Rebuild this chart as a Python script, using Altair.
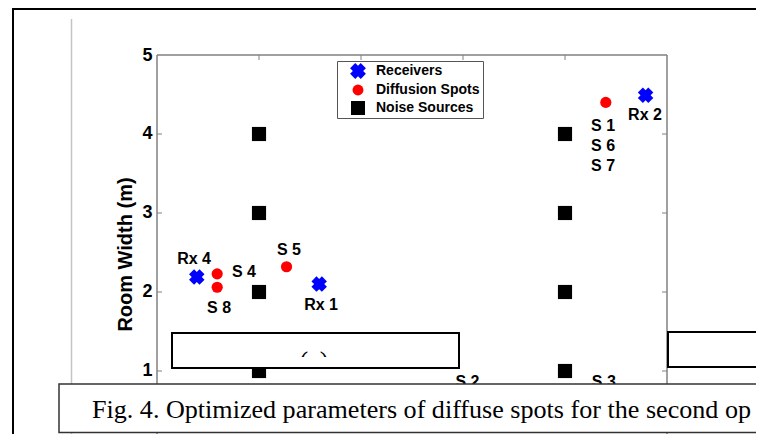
import altair as alt
import pandas as pd

# ---------------- data ----------------
categories = ["Receivers", "Diffusion Spots", "Noise Sources"]

rx_x = [0.39, 1.59, 4.79]
rx_y = [2.19, 2.10, 4.49]

ds_x = [0.59, 0.59, 1.27, 4.40]
ds_y = [2.23, 2.06, 2.32, 4.40]

ns_x = [1, 1, 1, 1, 4, 4, 4, 4]
ns_y = [1, 2, 3, 4, 1, 2, 3, 4]

label_text = ["Rx 4", "S 4", "S 8", "S 5", "Rx 1", "Rx 2", "S 1", "S 6", "S 7", "S 2", "S 3"]
label_x = [0.363, 0.853, 0.608, 1.294, 1.608, 4.784, 4.373, 4.373, 4.373, 3.044, 4.38]
label_y = [2.418, 2.253, 1.797, 2.532, 1.835, 4.241, 4.101, 3.848, 3.595, 0.856, 0.856]

y_ticks = [1, 2, 3, 4, 5]
x_ticks = [1, 2, 3, 4]

caption = "Fig. 4. Optimized parameters of diffuse spots for the second op"
panel_tag = "(a)"

# ---------------- tables ----------------
pts = pd.DataFrame({
    "type": ["Noise Sources"] * len(ns_x) + ["Diffusion Spots"] * len(ds_x) + ["Receivers"] * len(rx_x),
    "x": ns_x + ds_x + rx_x,
    "y": ns_y + ds_y + rx_y,
})
labels = pd.DataFrame({"label": label_text, "x": label_x, "y": label_y})
one = pd.DataFrame({"k": [0]})

W, H = 510, 379
GRAY = "#808080"
SANS = "Liberation Sans"
SERIF = "Liberation Serif"

xs = alt.Scale(domain=[0, 5], nice=False, zero=False)
ys = alt.Scale(domain=[0.2025, 5], nice=False, zero=False)

X_PATH = "M-1,-0.35L-0.35,-1L0,-0.65L0.35,-1L1,-0.35L0.65,0L1,0.35L0.35,1L0,0.65L-0.35,1L-1,0.35L-0.65,0Z"

leg = alt.Legend(
    title=None, orient="none", legendX=180, legendY=6,
    padding=3, rowPadding=4, symbolOffset=11, labelOffset=11,
    fillColor="white", strokeColor="#555555",
    labelFont=SANS, labelFontSize=14, labelFontWeight="bold", labelColor="black",
    symbolStrokeWidth=0,
    symbolSize=alt.ExprRef(expr="datum.value == 'Receivers' ? 250 : (datum.value == 'Diffusion Spots' ? 120 : 196)"),
)

yaxis = alt.Axis(
    values=y_ticks, format="d", title="Room Width (m)", domain=False, ticks=False, grid=False,
    labelPadding=5, labelFont=SANS, labelFontSize=18, labelFontWeight="bold", labelColor="black",
    titleFont=SANS, titleFontSize=20, titleFontWeight="bold", titleColor="black",
    titlePadding=6, titleY=199,
)

X = alt.X("x:Q", scale=xs, axis=None)
Y = alt.Y("y:Q", scale=ys, axis=yaxis)

# frame and side line
frame = alt.Chart(one).mark_rect(fill=None, stroke="black", strokeWidth=2).encode(
    x=alt.value(-144), x2=alt.value(800), y=alt.value(-46), y2=alt.value(600))
side_line = alt.Chart(one).mark_rule(color="#c4c4c4", strokeWidth=1.5).encode(
    x=alt.value(-85.5), y=alt.value(-36), y2=alt.value(600))

# plot box borders
b_top = alt.Chart(one).mark_rule(color=GRAY, strokeWidth=1.5).encode(
    x=alt.value(0), x2=alt.value(W), y=alt.value(0))
b_left = alt.Chart(one).mark_rule(color=GRAY, strokeWidth=1.5).encode(
    x=alt.value(0), y=alt.value(0), y2=alt.value(H + 10))
b_right = alt.Chart(one).mark_rule(color=GRAY, strokeWidth=1.5).encode(
    x=alt.value(W), y=alt.value(0), y2=alt.value(H + 10))

# inward ticks
t_left = alt.Chart(pd.DataFrame({"y": y_ticks[:-1]})).mark_rule(color=GRAY, strokeWidth=1).encode(
    y=Y, x=alt.value(0), x2=alt.value(5))
t_right = alt.Chart(pd.DataFrame({"y": y_ticks[:-1]})).mark_rule(color=GRAY, strokeWidth=1).encode(
    y=Y, x=alt.value(W - 5), x2=alt.value(W))
t_top = alt.Chart(pd.DataFrame({"x": x_ticks})).mark_rule(color=GRAY, strokeWidth=1).encode(
    x=X, y=alt.value(0), y2=alt.value(5))

color_enc = alt.Color("type:N", scale=alt.Scale(domain=categories, range=["#0000ff", "#ff0000", "#000000"]), legend=leg)
shape_enc = alt.Shape("type:N", scale=alt.Scale(domain=categories, range=[X_PATH, "circle", "square"]), legend=leg)

base = alt.Chart(pts).encode(x=X, y=Y, color=color_enc, shape=shape_enc)
p_noise = base.transform_filter(alt.datum.type == "Noise Sources").mark_point(
    filled=True, opacity=1, strokeWidth=0, size=200)
p_diff = base.transform_filter(alt.datum.type == "Diffusion Spots").mark_point(
    filled=True, opacity=1, strokeWidth=0, size=125)
p_rx = base.transform_filter(alt.datum.type == "Receivers").mark_point(
    filled=True, opacity=1, strokeWidth=0, size=240)

texts = alt.Chart(labels).mark_text(
    font=SANS, fontSize=16, fontWeight="bold", color="black", align="center", baseline="middle"
).encode(x=X, y=Y, text="label:N")

# overlaid boxes
box_a_fill = alt.Chart(one).mark_rect(fill="white", stroke="black", strokeWidth=2).encode(
    x=alt.value(15), x2=alt.value(302), y=alt.value(278), y2=alt.value(313))
tag_a = alt.Chart(one).mark_text(font=SERIF, fontSize=26, color="black", align="center", baseline="alphabetic").encode(
    x=alt.value(157), y=alt.value(313.5), text=alt.value(panel_tag))
cover = alt.Chart(one).mark_rect(fill="white", strokeWidth=0).encode(
    x=alt.value(135), x2=alt.value(180), y=alt.value(302), y2=alt.value(328))
box_a_line = alt.Chart(one).mark_rect(fill=None, stroke="black", strokeWidth=2).encode(
    x=alt.value(15), x2=alt.value(302), y=alt.value(278), y2=alt.value(313))
box_r = alt.Chart(one).mark_rect(fill="white", stroke="black", strokeWidth=2).encode(
    x=alt.value(511), x2=alt.value(800), y=alt.value(277), y2=alt.value(312))
cap_box = alt.Chart(one).mark_rect(fill="white", stroke="#333333", strokeWidth=1.5).encode(
    x=alt.value(-98), x2=alt.value(800), y=alt.value(329), y2=alt.value(377.5))
cap_text = alt.Chart(one).mark_text(font=SERIF, fontSize=26.1, color="black", align="left", baseline="alphabetic").encode(
    x=alt.value(-65), y=alt.value(362.5), text=alt.value(caption))

chart = alt.layer(
    frame, side_line, b_top, b_left, b_right, t_left, t_right, t_top,
    p_noise, p_diff, p_rx, texts, box_a_fill, tag_a, cover, box_a_line, box_r, cap_box, cap_text,
).properties(
    width=W, height=H,
    autosize=alt.AutoSizeParams(type="none"),
    padding={"left": 149, "top": 47, "right": 89, "bottom": 0},
    background="white",
).configure_view(stroke=None)

chart.save("out.html", embed_options={"renderer": "svg", "actions": False})
